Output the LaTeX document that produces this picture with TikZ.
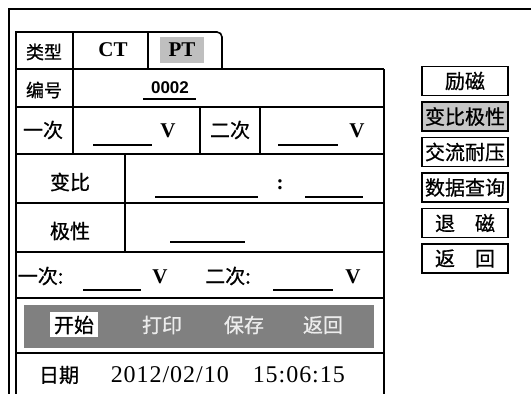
\documentclass[tikz,border=0pt]{standalone}
\usepackage{fontspec}
\setmainfont{Liberation Serif}
\newfontfamily\cjk[FakeBold=0.8]{Noto Sans CJK SC}
\newfontfamily\sansf{Liberation Sans}
\newfontfamily\datef[LetterSpace=4]{Liberation Serif}
\usetikzlibrary{positioning}

\begin{document}
\begin{tikzpicture}[x=1pt,y=-1pt,line width=1.6pt,
    cn/.style={font=\cjk\fontsize{20}{20}\selectfont,inner sep=0pt},
    cs/.style={font=\cjk\fontsize{18}{18}\selectfont,inner sep=0pt},
    lat/.style={font=\bfseries\fontsize{21}{21}\selectfont,inner sep=0pt},
    dat/.style={font=\datef\fontsize{24}{24}\selectfont,inner sep=0pt},
    uline/.style={line width=1.4pt},
    btn/.style={draw,line width=1.5pt,minimum width=86pt,minimum height=29pt,
      inner sep=0pt,font=\cjk\fontsize{20}{20}\selectfont}]
      \useasboundingbox (0,0) rectangle (531,394);
      %% outer frame
      \draw (531,9) -- (9,9) -- (9,394);
      %% table frame and tab
      \draw (16,394) -- (16,32) -- (214,32);
      \draw[rounded corners=5pt] (210,32) -- (222,32) -- (222,69);
      \draw (384,69) -- (384,394);
      \foreach \y in {69,107,154,203,252,298,353}
        \draw (16,\y) -- (384,\y);
      \draw (73,32) -- (73,154);
      \draw (148,32) -- (148,69);
      \draw (200,107) -- (200,154);
      \draw (260,107) -- (260,154);
      \draw (125,154) -- (125,252);
      %% tab row
      \node[cs] (type) at (44,52) {类型};
      \node[lat] (ct) at (113,50) {CT};
      \fill[gray!50] (160,37) rectangle (204,63);
      \node[lat] (pt) at (182,50) {PT};
      %% number row
      \node[cs] (num) at (44,90) {编号};
      \node[font=\sansf\bfseries\fontsize{17}{17}\selectfont,inner sep=0pt] (numval) at (170,88) {0002};
      \draw[uline] (143,99) -- (196,99);
      %% primary / secondary row
      \node[cn] (prim) at (43,130) {一次};
      \draw[uline] (93,145) -- (152,145);
      \node[lat] (pv) at (168,131) {V};
      \node[cn] (sec) at (230,130) {二次};
      \draw[uline] (278,145) -- (338,145);
      \node[lat] (sv) at (357,131) {V};
      %% ratio and polarity
      \node[cn] (ratio) at (70,182) {变比};
      \draw[uline] (155,197) -- (258,197);
      \node[lat] (colon) at (280,185) {:};
      \draw[uline] (305,197) -- (363,197);
      \node[cn] (polar) at (70,231) {极性};
      \draw[uline] (170,242) -- (245,242);
      %% measured row
      \node[cn,anchor=west] (prim2) at (17,276) {一次:};
      \draw[uline] (83,290) -- (141,290);
      \node[lat] (pv2) at (160,277) {V};
      \node[cn] (sec2) at (228,276) {二次:};
      \draw[uline] (273,290) -- (333,290);
      \node[lat] (sv2) at (353,277) {V};
      %% command bar
      \fill[gray] (24,305) rectangle (374,348);
      \fill[white] (50,312) rectangle (98,337);
      \node[cn] (start) at (74,325) {开始};
      \node[cn,text=gray!15] (print) at (162,325) {打印};
      \node[cn,text=gray!15] (save) at (244,325) {保存};
      \node[cn,text=gray!15] (back) at (323,325) {返回};
      %% date row
      \node[cn] (date) at (59,375) {日期};
      \node[dat,anchor=west] (dateval) at (110,375) {2012/02/10};
      \node[dat,anchor=west] (timeval) at (252,375) {15:06:15};
      %% side buttons
      \node[btn] (b1) at (465,81) {励磁};
      \node[btn,fill=gray!45,below=5pt of b1] (b2) {变比极性};
      \node[btn,below=5pt of b2] (b3) {交流耐压};
      \node[btn,below=5pt of b3] (b4) {数据查询};
      \node[btn,below=5pt of b4] (b5) {退\quad 磁};
      \node[btn,below=5pt of b5] (b6) {返\quad 回};
\end{tikzpicture}
\end{document}
